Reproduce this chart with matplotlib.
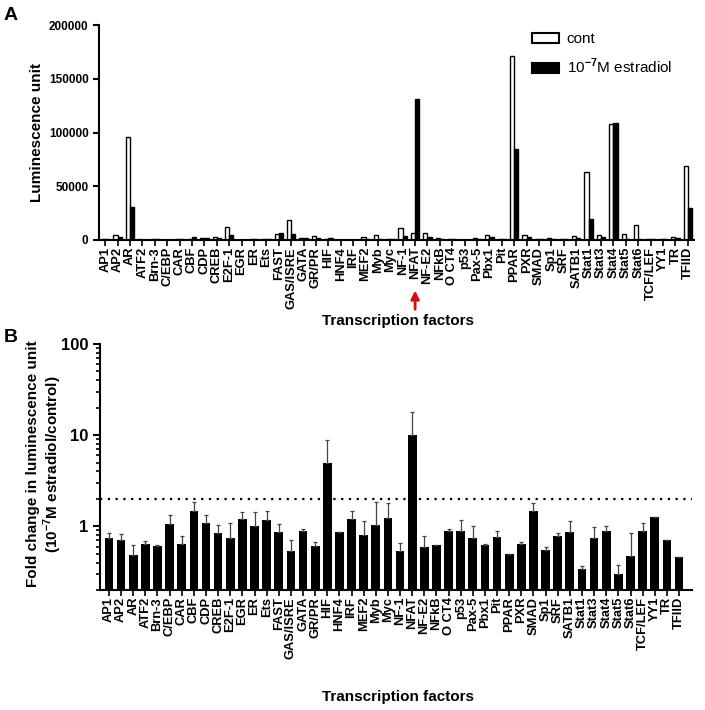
import numpy as np
import matplotlib
matplotlib.use("Agg")
import matplotlib.pyplot as plt
from matplotlib.patches import Patch
from matplotlib.ticker import FixedLocator, LogLocator, FuncFormatter, NullFormatter

plt.rcParams['font.family'] = ['Liberation Sans', 'DejaVu Sans']
plt.rcParams['font.weight'] = 'bold'
plt.rcParams['mathtext.fontset'] = 'custom'
plt.rcParams['mathtext.rm'] = 'Liberation Sans'
plt.rcParams['mathtext.bf'] = 'Liberation Sans:bold'

# transcription factors (same order in both panels)
factors = ["AP1", "AP2", "AR", "ATF2", "Brn-3", "C/EBP", "CAR", "CBF", "CDP", "CREB",
           "E2F-1", "EGR", "ER", "Ets", "FAST", "GAS/ISRE", "GATA", "GR/PR", "HIF", "HNF4",
           "IRF", "MEF2", "Myb", "Myc", "NF-1", "NFAT", "NF-E2", "NFkB", "O CT4", "p53",
           "Pax-5", "Pbx1", "Pit", "PPAR", "PXR", "SMAD", "Sp1", "SRF", "SATB1", "Stat1",
           "Stat3", "Stat4", "Stat5", "Stat6", "TCF/LEF", "YY1", "TR", "TFIID"]

# panel A: luminescence units
cont = [500, 4400, 95500, 500, 1000, 200, 800, 1000, 1500, 3100,
        12200, 300, 1000, 500, 5300, 18800, 1500, 3800, 500, 300,
        300, 2500, 4400, 500, 11000, 6300, 6900, 1500, 500, 300,
        1500, 4700, 500, 171000, 4300, 500, 1500, 500, 3400, 63700,
        4600, 107500, 5300, 13600, 500, 500, 2800, 69000]
estr = [500, 2500, 30900, 300, 1000, 200, 800, 2500, 1500, 1500,
        4400, 300, 500, 1000, 6300, 5300, 1500, 2000, 1500, 300,
        300, 1000, 500, 500, 3800, 131000, 2500, 1000, 500, 300,
        1000, 2500, 500, 85000, 3000, 500, 1000, 500, 2000, 19200,
        2500, 109000, 1000, 500, 500, 500, 2200, 30000]

# panel B: fold change (mean) and upper error bar top
fold = [0.744, 0.714, 0.49, 0.645, 0.608, 1.06, 0.645, 1.47, 1.08, 0.844,
        0.744, 1.2, 1.0, 1.17, 0.86, 0.535, 0.896, 0.608, 4.92, 0.866,
        1.2, 0.796, 1.04, 1.23, 0.535, 10.0, 0.593, 0.618, 0.881, 0.881,
        0.744, 0.618, 0.763, 0.5, 0.645, 1.47, 0.545, 0.776, 0.86, 0.343,
        0.744, 0.881, 0.302, 0.472, 0.896, 1.26, 0.707, 0.456]
fold_top = [0.844, 0.823, 0.618, 0.696, 0.623, 1.33, 0.79, 1.85, 1.32, 1.04,
            1.09, 1.44, 1.44, 1.47, 1.06, 0.707, 0.927, 0.679, 8.8, 0.87,
            1.47, 1.13, 1.87, 1.82, 0.662, 17.8, 0.776, 0.618, 0.927, 1.18,
            1.01, 0.645, 0.881, 0.5, 0.672, 1.80, 0.593, 0.844, 1.15, 0.37,
            0.975, 1.02, 0.376, 0.844, 1.09, 1.27, 0.707, 0.456]

x = np.arange(len(factors))
W, H = 705, 710

fig = plt.figure(figsize=(7.05, 7.10), dpi=100)

# ---- panel A ----
axA = fig.add_axes([99 / W, 1 - 240 / H, 595 / W, 215 / H])
w = 0.34
axA.bar(x - w / 2, cont, width=w, color='white', edgecolor='black', linewidth=1.0)
axA.bar(x + w / 2, estr, width=w, color='black', edgecolor='black', linewidth=1.0)
axA.set_xlim(-0.5, 47.5)
axA.set_ylim(0, 200000)
axA.set_yticks([0, 50000, 100000, 150000, 200000])
axA.set_xticks(x)
axA.set_xticklabels(factors, rotation=90, fontsize=9.3, fontweight='bold')
axA.tick_params(axis='y', labelsize=8.5, width=1.5, length=4)
axA.tick_params(axis='x', width=1.2, length=4, pad=1)
for s in ['top', 'right']:
    axA.spines[s].set_visible(False)
for s in ['left', 'bottom']:
    axA.spines[s].set_linewidth(1.5)
fig.text(37 / W, 1 - 132 / H, "Luminescence unit", rotation=90, ha='center', va='center',
         fontsize=11, fontweight='bold')
leg_handles = [Patch(facecolor='white', edgecolor='black', linewidth=1.5, label='cont'),
               Patch(facecolor='black', edgecolor='black', linewidth=1.5,
                     label='10$^{-7}$M estradiol')]
axA.legend(handles=leg_handles, loc='upper left', bbox_to_anchor=(0.705, 1.03), frameon=False,
           handlelength=1.75, handleheight=0.65, labelspacing=0.7, handletextpad=0.5,
           prop={'weight': 'normal', 'size': 11})
axA.annotate("", xy=(25, -0.222), xycoords=('data', 'axes fraction'),
             xytext=(25, -0.335), textcoords=('data', 'axes fraction'),
             arrowprops=dict(arrowstyle='-|>', color='#d01010', lw=2, mutation_scale=12),
             annotation_clip=False)
fig.text(398 / W, 1 - 321 / H, "Transcription factors", ha='center', va='center',
         fontsize=11, fontweight='bold')

# ---- panel B ----
axB = fig.add_axes([100 / W, 1 - 590 / H, 592 / W, 246 / H])
err = np.array(fold_top) - np.array(fold)
axB.bar(x, fold, width=0.72, color='black', bottom=0.0001)
axB.errorbar(x, fold, yerr=[np.zeros(len(x)), err], fmt='none', ecolor='#444444',
             elinewidth=0.9, capsize=1.5, capthick=0.9)
axB.set_yscale('log')
axB.set_ylim(0.2, 100)
axB.set_xlim(-0.74, 48.07)
axB.plot([-0.74, 48.07], [2, 2], linestyle=(0, (1, 2.5)), color='black', linewidth=1.6)
axB.yaxis.set_major_locator(FixedLocator([1, 10, 100]))
axB.yaxis.set_major_formatter(FuncFormatter(lambda v, p: "%d" % v))
axB.yaxis.set_minor_locator(LogLocator(base=10, subs=np.arange(2, 10)))
axB.yaxis.set_minor_formatter(NullFormatter())
axB.tick_params(axis='y', which='major', labelsize=12, width=1.5, length=5)
axB.tick_params(axis='y', which='minor', width=1.2, length=3)
axB.set_xticks(x)
axB.set_xticklabels(factors, rotation=90, fontsize=9.3, fontweight='bold')
axB.tick_params(axis='x', width=1.2, length=4, pad=1)
for s in ['top', 'right']:
    axB.spines[s].set_visible(False)
for s in ['left', 'bottom']:
    axB.spines[s].set_linewidth(1.5)
fig.text(45 / W, 1 - 464 / H,
         "Fold change in luminescence unit\n(10$^{\\mathbf{-7}}$M estradiol/control)",
         rotation=90, ha='center', va='center', multialignment='center',
         fontsize=11, fontweight='bold', linespacing=1.1)
fig.text(398 / W, 1 - 697 / H, "Transcription factors", ha='center', va='center',
         fontsize=11, fontweight='bold')

fig.text(4 / W, 1 - 15 / H, "A", fontsize=14, fontweight='bold', va='center')
fig.text(4 / W, 1 - 337 / H, "B", fontsize=14, fontweight='bold', va='center')

fig.savefig("out.png", dpi=100)
